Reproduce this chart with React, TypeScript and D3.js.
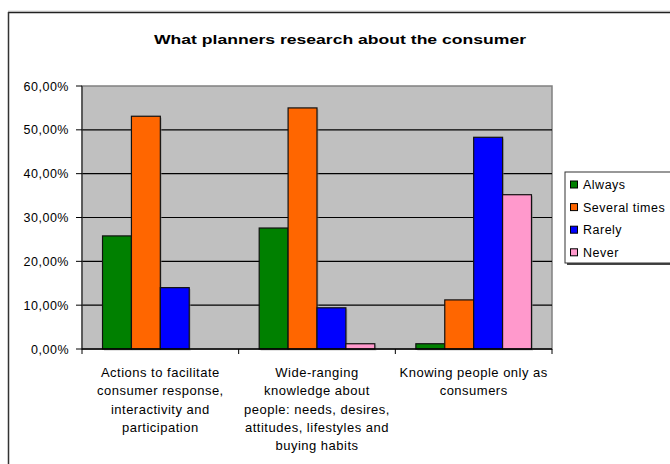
import React from "react";
import * as d3 from "d3";

const categories: string[][] = [
  ["Actions to facilitate", "consumer response,", "interactivity and", "participation"],
  ["Wide-ranging", "knowledge about", "people: needs, desires,", "attitudes, lifestyles and", "buying habits"],
  ["Knowing people only as", "consumers"],
];
const seriesNames = ["Always", "Several times", "Rarely", "Never"];
const seriesColors = ["#008000", "#ff6600", "#0000ff", "#ff99cc"];
const always = [25.8, 27.6, 1.2];
const severalTimes = [53.1, 55.0, 11.2];
const rarely = [14.0, 9.4, 48.3];
const never = [0, 1.2, 35.2];
const yTicks = [0, 10, 20, 30, 40, 50, 60];
const title = "What planners research about the consumer";

const seriesValues = [always, severalTimes, rarely, never];

export default function App() {
  const W = 670, H = 464;
  const left = 82, right = 552, top = 86, bottom = 349;
  const font = "Arial, 'Liberation Sans', sans-serif";

  const x0 = d3.scaleBand<number>().domain([0, 1, 2]).range([left, right]).paddingInner(0).paddingOuter(0);
  const x1 = d3.scaleBand<number>().domain([0, 1, 2, 3]).range([0, x0.bandwidth()]).paddingInner(0).paddingOuter(0.71);
  const y = d3.scaleLinear().domain([0, 60]).range([bottom, top]);

  return (
    <svg width={W} height={H} style={{ position: "absolute", left: 0, top: 0, display: "block" }} fontFamily={font}>
      <rect x={0} y={0} width={W} height={H} fill="#fff" />
      {/* chart border */}
      <line x1={8} y1={11} x2={W} y2={11} stroke="#d8d8d8" strokeWidth={1} />
      <line x1={8} y1={12.5} x2={W} y2={12.5} stroke="#222" strokeWidth={1.5} />
      <line x1={8.5} y1={12} x2={8.5} y2={H} stroke="#333" strokeWidth={1.5} />

      <text x={340} y={44} textAnchor="middle" fontSize={13.5} fontWeight="bold" fill="#000" textLength={372} lengthAdjust="spacingAndGlyphs">
        {title}
      </text>

      {/* plot area */}
      <rect x={left} y={top} width={right - left} height={bottom - top} fill="#c0c0c0" stroke="#808080" strokeWidth={1.5} />
      {yTicks.filter(t => t > 0 && t < 60).map(t => (
        <line key={t} x1={left} x2={right} y1={y(t)} y2={y(t)} stroke="#000" strokeWidth={1.2} />
      ))}

      {/* bars */}
      {seriesValues.map((vals, s) =>
        vals.map((v, c) => {
          const bx = (x0(c) ?? 0) + (x1(s) ?? 0);
          if (v <= 0) return null;
          return (
            <g key={`${s}-${c}`}>
              <rect x={bx + 1.5} y={y(v) + 1.5} width={x1.bandwidth()} height={bottom - y(v)} fill="#888" opacity={0.5} />
              <rect x={bx} y={y(v)} width={x1.bandwidth()} height={bottom - y(v)} fill={seriesColors[s]} stroke="#111" strokeWidth={1.2} />
            </g>
          );
        })
      )}

      {/* y axis */}
      <line x1={left} x2={left} y1={top} y2={bottom} stroke="#333" strokeWidth={1.2} />
      {yTicks.map(t => (
        <g key={t}>
          <line x1={left - 6} x2={left} y1={y(t)} y2={y(t)} stroke="#000" strokeWidth={1} />
          <text x={69} y={y(t) + 4.5} textAnchor="end" fontSize={12.5} letterSpacing={0.5} fill="#000">
            {`${t.toFixed(2).replace(".", ",")}%`}
          </text>
        </g>
      ))}

      {/* x axis */}
      <line x1={left} x2={right} y1={bottom} y2={bottom} stroke="#000" strokeWidth={1.5} />
      {[0, 1, 2].map(c => (
        <line key={c} x1={(x0(c) ?? 0)} x2={(x0(c) ?? 0)} y1={bottom} y2={bottom + 5} stroke="#000" strokeWidth={1} />
      ))}
      <line x1={right} x2={right} y1={bottom} y2={bottom + 5} stroke="#000" strokeWidth={1} />
      {categories.map((lines, c) => (
        <text key={c} textAnchor="middle" fontSize={13} letterSpacing={0.5} fill="#000">
          {lines.map((ln, i) => (
            <tspan key={i} x={(x0(c) ?? 0) + x0.bandwidth() / 2} y={377 + i * 18.3}>{ln}</tspan>
          ))}
        </text>
      ))}

      {/* legend */}
      <rect x={567} y={174} width={110} height={91} fill="#444" />
      <rect x={565} y={172} width={110} height={91} fill="#fff" stroke="#333" strokeWidth={1} />
      {seriesNames.map((n, i) => (
        <g key={n}>
          <rect x={570.5} y={181 + i * 22.6} width={7} height={7} fill={seriesColors[i]} stroke="#000" strokeWidth={1} />
          <text x={583} y={189 + i * 22.6} fontSize={12.5} letterSpacing={0.5} fill="#000">{n}</text>
        </g>
      ))}
    </svg>
  );
}
